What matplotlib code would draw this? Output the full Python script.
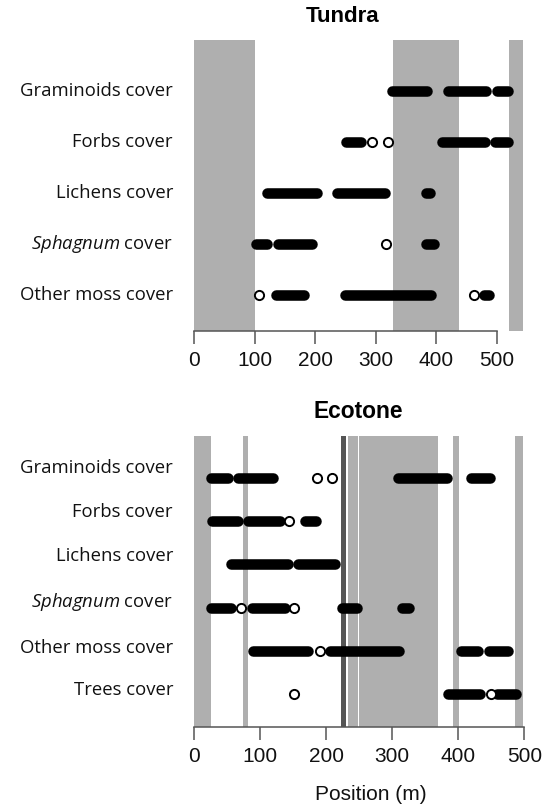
import matplotlib
matplotlib.use('Agg')
import matplotlib.pyplot as plt
import matplotlib.transforms as mtransforms

plt.rcParams['mathtext.fontset'] = 'custom'
plt.rcParams['mathtext.it'] = 'Open Sans:italic'
plt.rcParams['mathtext.rm'] = 'Open Sans'

# ---- data (positions in m) ----
tundra_labels = ['Graminoids cover', 'Forbs cover', 'Lichens cover',
                 r'$\it{Sphagnum}$ cover', 'Other moss cover']
# runs of overlapping filled points (first, last position)
tundra_filled = [
    [(327, 385), (420, 482), (500, 519)],
    [(251, 276), (409, 480), (498, 518)],
    [(120, 203), (236, 316), (383, 390)],
    [(102, 121), (139, 195), (384, 396)],
    [(135, 181), (250, 391), (479, 487)],
]
tundra_open = [[], [294, 321], [], [317], [107, 462]]
tundra_bands = [(0, 100), (329, 438), (520, 544)]

ecotone_labels = ['Graminoids cover', 'Forbs cover', 'Lichens cover',
                  r'$\it{Sphagnum}$ cover', 'Other moss cover', 'Trees cover']
ecotone_filled = [
    [(26, 52), (67, 119), (309, 383), (419, 448)],
    [(27, 67), (82, 130), (168, 184)],
    [(56, 142), (157, 214)],
    [(26, 56), (88, 138), (224, 246), (315, 325)],
    [(90, 173), (206, 310), (404, 430), (446, 475)],
    [(385, 433), (458, 487)],
]
ecotone_open = [[186, 209], [144], [], [71, 151], [191], [151, 450]]
ecotone_bands = [(0, 26), (74, 82), (233, 248.5), (250.5, 370), (392, 401.5), (486.5, 497.5)]
ecotone_line = (222, 230)

xticks = [0, 100, 200, 300, 400, 500]

# ---- layout ----
W, H = 543, 806
fig = plt.figure(figsize=(W / 100, H / 100), dpi=100)
GRAY = '#afafaf'
LW = 7.6


def panel(rect, labels, filled, opens, bands, xlim, ylim, label_shift):
    ax = fig.add_axes(rect)
    n = len(labels)
    for a, b in bands:
        ax.axvspan(a, b, color=GRAY, lw=0, zorder=0)
    for i in range(n):
        y = n - i
        for s, e in filled[i]:
            ax.plot([s, e], [y, y], color='black', lw=LW, solid_capstyle='round', zorder=3)
        if opens[i]:
            ax.plot(opens[i], [y] * len(opens[i]), 'o', mfc='white', mec='black',
                    ms=6.6, mew=1.4, zorder=4)
        ax.text(173 / W, y + label_shift[i], labels[i], ha='right', va='center',
                fontsize=13.3, family='Open Sans', color='#111111',
                transform=mtransforms.blended_transform_factory(fig.transFigure, ax.transData))
    ax.set_xlim(*xlim)
    ax.set_ylim(*ylim)
    ax.set_yticks([])
    for s in ['top', 'right', 'left']:
        ax.spines[s].set_visible(False)
    ax.spines['bottom'].set_bounds(0, 500)
    ax.spines['bottom'].set_color('#555555')
    ax.spines['bottom'].set_linewidth(1.1)
    ax.set_xticks(xticks)
    ax.set_xticklabels([str(t) for t in xticks], family='Liberation Sans', fontsize=15)
    ax.tick_params(axis='x', length=9, width=1.1, color='#555555', pad=5.5, labelcolor='#111111')
    ax.patch.set_visible(False)
    return ax


top = panel([194 / W, (H - 331) / H, 329.3 / W, 291 / H], tundra_labels, tundra_filled,
            tundra_open, tundra_bands, (0, 544), (0.295, 5.99), [0, 0, 0, 0, 0])
bot = panel([194 / W, (H - 727) / H, 330.3 / W, 291 / H], ecotone_labels, ecotone_filled,
            ecotone_open, ecotone_bands, (0, 500), (0.236, 6.97),
            [0.23, 0.22, 0.19, 0.14, 0.07, 0.09])
bot.axvspan(*ecotone_line, color='#555555', lw=0, zorder=1)

fig.text(342.5 / W, 1 - 17 / H, 'Tundra', ha='center', va='center', fontsize=16,
         fontweight='bold', family='Liberation Sans')
fig.text(358.3 / W, 1 - 411 / H, 'Ecotone', ha='center', va='center', fontsize=16.4,
         fontweight='bold', family='Liberation Sans')
fig.text(370.8 / W, 1 - 794 / H, 'Position (m)', ha='center', va='center', fontsize=15,
         family='Liberation Sans', color='#111111')

fig.savefig('out.png', dpi=100)
